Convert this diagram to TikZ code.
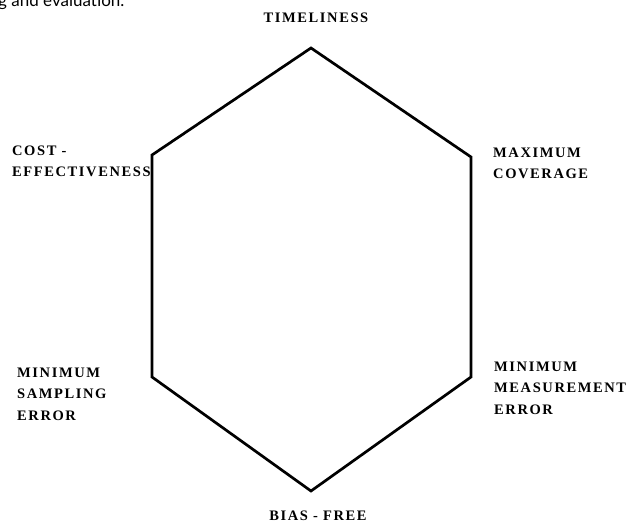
\documentclass[tikz,border=0pt]{standalone}
\usepackage{fontspec}
\setmainfont{Liberation Serif}
\newfontfamily\topfont{Lato}
\begin{document}
\begin{tikzpicture}[x=1pt,y=-1pt,
  lbl/.style={anchor=base west,inner sep=0pt,font=\fontsize{14.5}{16}\selectfont\bfseries\addfontfeatures{LetterSpace=11}},
  hexline/.style={line width=2.7pt,line join=miter}]
\useasboundingbox (0,0) rectangle (630,526);
\clip (0,0) rectangle (630,526);
\node[anchor=base west,inner sep=0pt,font=\topfont\fontsize{17}{20}\selectfont] (cap) at (-2,7) {g and evaluation.};
\coordinate (t) at (311,48);
\coordinate (ur) at (471,157);
\coordinate (lr) at (471,377);
\coordinate (b) at (311,491);
\coordinate (ll) at (152,377);
\coordinate (ul) at (152,155);
\draw[hexline] (t) -- (ur) -- (lr) -- (b) -- (ll) -- (ul) -- cycle;
\node[lbl,anchor=base] (tl) at (316,23) {TIMELINESS};
\node[lbl] (c1) at (12,156) {COST -};
\node[lbl] (c2) at (12,177) {EFFECTIVENESS};
\node[lbl] (m1) at (493,158) {MAXIMUM};
\node[lbl] (m2) at (493,179) {COVERAGE};
\node[lbl] (s1) at (17,378) {MINIMUM};
\node[lbl] (s2) at (17,399) {SAMPLING};
\node[lbl] (s3) at (17,421) {ERROR};
\node[lbl] (e1) at (494,372) {MINIMUM};
\node[lbl] (e2) at (494,393) {MEASUREMENT};
\node[lbl] (e3) at (494,415) {ERROR};
\node[lbl,anchor=base] (bf) at (318,521) {BIAS - FREE};
\end{tikzpicture}
\end{document}
